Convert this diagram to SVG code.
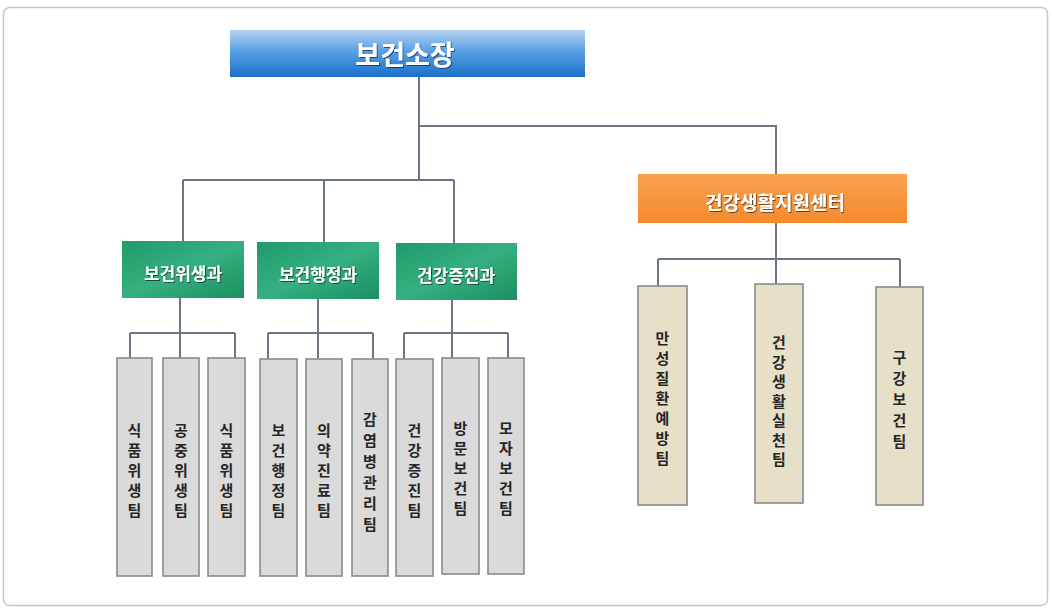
<svg xmlns="http://www.w3.org/2000/svg" width="1052" height="609" viewBox="0 0 1052 609">
<defs>
<linearGradient id="gBlue" x1="0" y1="0" x2="0" y2="1">
<stop offset="0" stop-color="#b4d2f0"/>
<stop offset="0.45" stop-color="#5aa0e4"/>
<stop offset="1" stop-color="#1a6fc8"/>
</linearGradient>
<linearGradient id="gGreen" x1="0" y1="0" x2="1" y2="1">
<stop offset="0" stop-color="#1f9a68"/>
<stop offset="0.5" stop-color="#35b07f"/>
<stop offset="1" stop-color="#1c8f60"/>
</linearGradient>
<linearGradient id="gOrange" x1="0" y1="0" x2="0" y2="1">
<stop offset="0" stop-color="#f9a150"/>
<stop offset="1" stop-color="#f48a2c"/>
</linearGradient>
<filter id="ts" x="-10%" y="-20%" width="120%" height="140%">
<feDropShadow dx="1" dy="1" stdDeviation="0.6" flood-color="#000" flood-opacity="0.55"/>
</filter>
</defs>
<style>
.frame{fill:#fff;stroke:#c8c8c8;stroke-width:1.5}
.con{fill:none;stroke:#6b7684;stroke-width:2}
.team{fill:#dadada;stroke:#8a8a8a;stroke-width:1.6}
.team2{fill:#e6e0c8;stroke:#8a8a8a;stroke-width:1.6}
.vt{font-family:"Noto Sans CJK KR","Noto Sans",sans-serif;font-weight:bold;font-size:15px;fill:#262626;text-anchor:middle;dominant-baseline:central}
.wt{font-family:"Noto Sans CJK KR","Noto Sans",sans-serif;font-weight:bold;fill:#fff;text-anchor:middle;dominant-baseline:central}
</style>
<rect class="frame" x="3.5" y="7.5" width="1044" height="598" rx="6"/>

<g id="connectors">
<path class="con" d="M419 77 V180 M419 126 H776 V174 M183 180 H454 M183 180 V241 M324 180 V242 M454 180 V243"/>
<path class="con" d="M180 298 V333 M130 333 H235 M130 333 V358 M180 333 V358 M235 333 V358"/>
<path class="con" d="M318 299 V333 M268 333 H373 M268 333 V358 M318 333 V358 M373 333 V358"/>
<path class="con" d="M452 300 V333 M404 333 H508 M404 333 V358 M452 333 V358 M508 333 V358"/>
<path class="con" d="M776 223 V259 M658 259 H900 M658 259 V286 M776 259 V284 M900 259 V287"/>
</g>

<g id="director">
<rect x="230" y="30" width="355" height="47" fill="url(#gBlue)"/>
<text class="wt" x="405" y="53" font-size="27" filter="url(#ts)">보건소장</text>
</g>

<g id="center">
<rect x="638" y="174" width="269" height="49" fill="url(#gOrange)"/>
<text class="wt" x="775" y="201" font-size="19" filter="url(#ts)">건강생활지원센터</text>
</g>

<g id="dept1">
<rect x="122" y="241" width="122" height="57" fill="url(#gGreen)"/>
<text class="wt" x="183" y="272" font-size="17" filter="url(#ts)">보건위생과</text>
</g>
<g id="dept2">
<rect x="257" y="242" width="122" height="57" fill="url(#gGreen)"/>
<text class="wt" x="318" y="273" font-size="17" filter="url(#ts)">보건행정과</text>
</g>
<g id="dept3">
<rect x="396" y="243" width="121" height="57" fill="url(#gGreen)"/>
<text class="wt" x="456" y="274" font-size="17" filter="url(#ts)">건강증진과</text>
</g>

<g id="team1">
<rect class="team" x="117" y="358" width="35" height="218"/>
<text class="vt"><tspan x="134.5" y="429">식</tspan><tspan x="134.5" y="449">품</tspan><tspan x="134.5" y="469">위</tspan><tspan x="134.5" y="489">생</tspan><tspan x="134.5" y="509">팀</tspan></text>
</g>
<g id="team2">
<rect class="team" x="163" y="358" width="36" height="218"/>
<text class="vt"><tspan x="181" y="429">공</tspan><tspan x="181" y="449">중</tspan><tspan x="181" y="469">위</tspan><tspan x="181" y="489">생</tspan><tspan x="181" y="509">팀</tspan></text>
</g>
<g id="team3">
<rect class="team" x="208" y="358" width="37" height="218"/>
<text class="vt"><tspan x="226.5" y="429">식</tspan><tspan x="226.5" y="449">품</tspan><tspan x="226.5" y="469">위</tspan><tspan x="226.5" y="489">생</tspan><tspan x="226.5" y="509">팀</tspan></text>
</g>
<g id="team4">
<rect class="team" x="260" y="359" width="37" height="217"/>
<text class="vt"><tspan x="278.5" y="429">보</tspan><tspan x="278.5" y="449">건</tspan><tspan x="278.5" y="469">행</tspan><tspan x="278.5" y="489">정</tspan><tspan x="278.5" y="509">팀</tspan></text>
</g>
<g id="team5">
<rect class="team" x="306" y="359" width="36" height="217"/>
<text class="vt"><tspan x="324" y="429">의</tspan><tspan x="324" y="449">약</tspan><tspan x="324" y="469">진</tspan><tspan x="324" y="489">료</tspan><tspan x="324" y="509">팀</tspan></text>
</g>
<g id="team6">
<rect class="team" x="352" y="359" width="36" height="217"/>
<text class="vt"><tspan x="370" y="418">감</tspan><tspan x="370" y="439">염</tspan><tspan x="370" y="460">병</tspan><tspan x="370" y="481">관</tspan><tspan x="370" y="502">리</tspan><tspan x="370" y="523">팀</tspan></text>
</g>
<g id="team7">
<rect class="team" x="396" y="359" width="37" height="217"/>
<text class="vt"><tspan x="414.5" y="429">건</tspan><tspan x="414.5" y="449">강</tspan><tspan x="414.5" y="469">증</tspan><tspan x="414.5" y="489">진</tspan><tspan x="414.5" y="509">팀</tspan></text>
</g>
<g id="team8">
<rect class="team" x="442" y="358" width="37" height="216"/>
<text class="vt"><tspan x="460.5" y="427">방</tspan><tspan x="460.5" y="447">문</tspan><tspan x="460.5" y="467">보</tspan><tspan x="460.5" y="487">건</tspan><tspan x="460.5" y="507">팀</tspan></text>
</g>
<g id="team9">
<rect class="team" x="488" y="358" width="36" height="216"/>
<text class="vt"><tspan x="506" y="427">모</tspan><tspan x="506" y="447">자</tspan><tspan x="506" y="467">보</tspan><tspan x="506" y="487">건</tspan><tspan x="506" y="507">팀</tspan></text>
</g>

<g id="team10">
<rect class="team2" x="638" y="286" width="49" height="219"/>
<text class="vt"><tspan x="662.5" y="337">만</tspan><tspan x="662.5" y="357">성</tspan><tspan x="662.5" y="377">질</tspan><tspan x="662.5" y="397">환</tspan><tspan x="662.5" y="417">예</tspan><tspan x="662.5" y="437">방</tspan><tspan x="662.5" y="457">팀</tspan></text>
</g>
<g id="team11">
<rect class="team2" x="755" y="284" width="48" height="219"/>
<text class="vt"><tspan x="779" y="341">건</tspan><tspan x="779" y="361">강</tspan><tspan x="779" y="380">생</tspan><tspan x="779" y="400">활</tspan><tspan x="779" y="419">실</tspan><tspan x="779" y="439">천</tspan><tspan x="779" y="458">팀</tspan></text>
</g>
<g id="team12">
<rect class="team2" x="876" y="287" width="47" height="218"/>
<text class="vt"><tspan x="899.5" y="356">구</tspan><tspan x="899.5" y="377">강</tspan><tspan x="899.5" y="398">보</tspan><tspan x="899.5" y="419">건</tspan><tspan x="899.5" y="440">팀</tspan></text>
</g>
</svg>
